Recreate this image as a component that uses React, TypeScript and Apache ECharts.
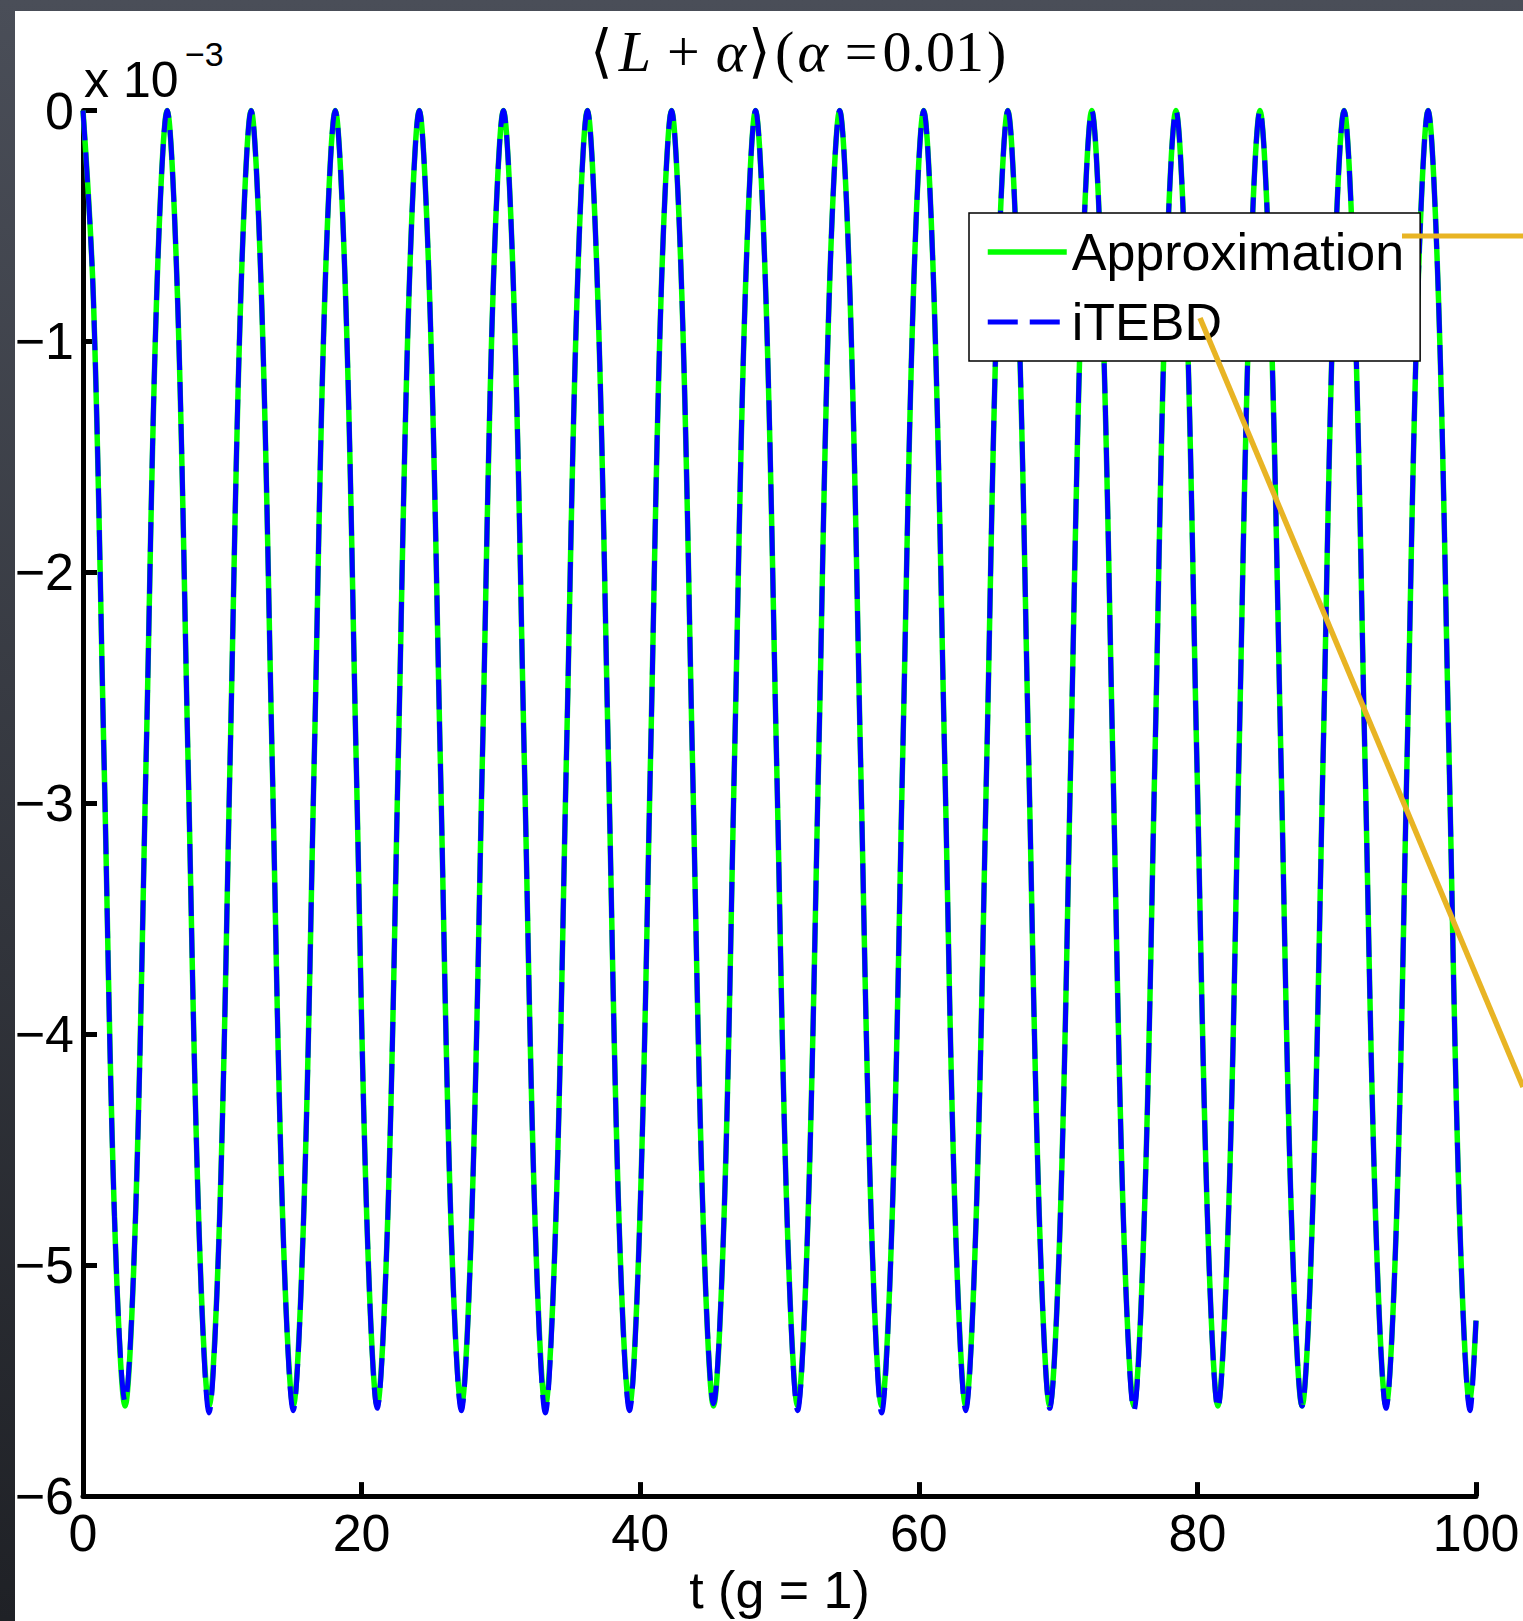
import React, { useEffect, useRef } from "react";
import * as echarts from "echarts";

// time axis t (g = 1)
const TIME = [
  0.0, 0.75, 1.51, 2.26, 3.02, 3.77, 4.53, 5.28,
  6.04, 6.79, 7.54, 8.3, 9.05, 9.81, 10.56, 11.32,
  12.07, 12.82, 13.58, 14.33, 15.09, 15.84, 16.6, 17.35,
  18.11, 18.86, 19.61, 20.37, 21.12, 21.88, 22.63, 23.39,
  24.14, 24.89, 25.65, 26.4, 27.16, 27.91, 28.67, 29.42,
  30.18, 30.93, 31.68, 32.44, 33.19, 33.95, 34.7, 35.46,
  36.21, 36.96, 37.72, 38.47, 39.23, 39.98, 40.74, 41.49,
  42.25, 43.0, 43.75, 44.51, 45.26, 46.02, 46.77, 47.53,
  48.28, 49.03, 49.79, 50.54, 51.3, 52.05, 52.81, 53.56,
  54.32, 55.07, 55.82, 56.58, 57.33, 58.09, 58.84, 59.6,
  60.35, 61.1, 61.86, 62.61, 63.37, 64.12, 64.88, 65.63,
  66.39, 67.14, 67.89, 68.65, 69.4, 70.16, 70.91, 71.67,
  72.42, 73.17, 73.93, 74.68, 75.44, 76.19, 76.95, 77.7,
  78.46, 79.21, 79.96, 80.72, 81.47, 82.23, 82.98, 83.74,
  84.49, 85.24, 86.0, 86.75, 87.51, 88.26, 89.02, 89.77,
  90.53, 91.28, 92.03, 92.79, 93.54, 94.3, 95.05, 95.81,
  96.56, 97.31, 98.07, 98.82, 99.58, 100.0,
];

// <L + alpha>, units of 1e-3
const APPROX = [
  0, -0.82, -2.81, -4.79, -5.61, -4.79, -2.81, -0.82,
  0, -0.82, -2.81, -4.79, -5.61, -4.79, -2.81, -0.82,
  0, -0.82, -2.81, -4.79, -5.61, -4.79, -2.81, -0.82,
  0, -0.82, -2.81, -4.79, -5.61, -4.79, -2.81, -0.82,
  0, -0.82, -2.81, -4.79, -5.61, -4.79, -2.81, -0.82,
  0, -0.82, -2.81, -4.79, -5.61, -4.79, -2.81, -0.82,
  0, -0.82, -2.81, -4.79, -5.61, -4.79, -2.81, -0.82,
  0, -0.82, -2.81, -4.79, -5.61, -4.79, -2.81, -0.82,
  0, -0.82, -2.81, -4.79, -5.61, -4.79, -2.81, -0.82,
  0, -0.82, -2.81, -4.79, -5.61, -4.79, -2.81, -0.82,
  0, -0.82, -2.81, -4.79, -5.61, -4.79, -2.81, -0.82,
  0, -0.82, -2.81, -4.79, -5.61, -4.79, -2.81, -0.82,
  0, -0.82, -2.81, -4.79, -5.61, -4.79, -2.81, -0.82,
  0, -0.82, -2.81, -4.79, -5.61, -4.79, -2.81, -0.82,
  0, -0.82, -2.81, -4.79, -5.61, -4.79, -2.81, -0.82,
  0, -0.82, -2.81, -4.79, -5.61, -4.79, -2.81, -0.82,
  0, -0.82, -2.81, -4.79, -5.61, -5.24,
];

const ITEBD = [
  0, -0.82, -2.81, -4.79, -5.59, -4.79, -2.81, -0.82,
  0, -0.82, -2.81, -4.79, -5.64, -4.79, -2.81, -0.82,
  0, -0.82, -2.81, -4.79, -5.63, -4.79, -2.81, -0.82,
  0, -0.82, -2.81, -4.79, -5.62, -4.79, -2.81, -0.82,
  0, -0.82, -2.81, -4.79, -5.63, -4.79, -2.81, -0.82,
  0, -0.82, -2.81, -4.79, -5.64, -4.79, -2.81, -0.82,
  0, -0.82, -2.81, -4.79, -5.63, -4.79, -2.81, -0.82,
  0, -0.82, -2.81, -4.79, -5.6, -4.79, -2.81, -0.82,
  0, -0.82, -2.81, -4.79, -5.63, -4.79, -2.81, -0.82,
  0, -0.82, -2.81, -4.79, -5.64, -4.79, -2.81, -0.82,
  0, -0.82, -2.81, -4.79, -5.63, -4.79, -2.81, -0.82,
  0, -0.82, -2.81, -4.79, -5.62, -4.79, -2.81, -0.82,
  0, -0.82, -2.81, -4.79, -5.63, -4.79, -2.81, -0.82,
  0, -0.82, -2.81, -4.79, -5.62, -4.79, -2.81, -0.82,
  0, -0.82, -2.81, -4.79, -5.61, -4.79, -2.81, -0.82,
  0, -0.82, -2.81, -4.79, -5.62, -4.79, -2.81, -0.82,
  0, -0.82, -2.81, -4.79, -5.63, -5.24,
];

const SERIES_NAMES = ["Approximation", "iTEBD"];
const X_RANGE = [0, 100, 20];
const Y_RANGE = [-6, 0, 1];
// title pieces: [text, style]
const TITLE_PARTS: [string, string][] = [
  ["\u27e8", "lb"],
  ["L", "i"],
  ["+", "op"],
  ["\u03b1", "i"],
  ["\u27e9", "rb"],
  ["(", "lp"],
  ["\u03b1", "i"],
  ["=", "eq"],
  ["0.01", "n"],
  [")", "rp"],
];
const X_NAME = "t (g = 1)";
const Y_MULT = ["x 10", "\u22123"];

const SANS = "Liberation Sans";
const SERIF = "Liberation Serif";

export default function App() {
  const ref = useRef<HTMLDivElement>(null);
  useEffect(() => {
    if (!ref.current) return;
    const chart = echarts.init(ref.current, undefined, { renderer: "svg" });
    const TS = 58;
    const base = { fontFamily: SERIF, fontSize: TS, fill: "#000" };
    const option: any = {
      animation: false,
      backgroundColor: "#ffffff",
      grid: { left: 83, top: 110.5, width: 1393, height: 1392.5, show: false },
      legend: {
        show: true,
        z: 10,
        orient: "vertical",
        left: 969,
        top: 213,
        padding: [13, 16, 13, 16],
        itemGap: 18,
        itemWidth: 79,
        itemHeight: 2,
        backgroundColor: "#ffffff",
        borderColor: "#000000",
        borderWidth: 1.5,
        borderRadius: 0,
        textStyle: { color: "#000", fontSize: 52, fontFamily: SANS },
        itemStyle: { opacity: 0 },
        lineStyle: { width: "inherit", type: "inherit" },
        data: SERIES_NAMES,
      },
      xAxis: {
        type: "value",
        min: X_RANGE[0],
        max: X_RANGE[1],
        interval: X_RANGE[2],
        axisLine: { show: true, onZero: false, lineStyle: { color: "#000", width: 5 } },
        axisTick: { show: true, inside: true, length: 14, lineStyle: { color: "#000", width: 5 } },
        splitLine: { show: false },
        axisLabel: { color: "#000", fontSize: 52, fontFamily: SANS, margin: 11 },
        name: X_NAME,
        nameLocation: "middle",
        nameGap: 66,
        nameTextStyle: { color: "#000", fontSize: 52, fontFamily: SANS },
      },
      yAxis: {
        type: "value",
        min: Y_RANGE[0],
        max: Y_RANGE[1],
        interval: Y_RANGE[2],
        axisLine: { show: true, onZero: false, lineStyle: { color: "#000", width: 5 } },
        axisTick: { show: true, inside: true, length: 14, lineStyle: { color: "#000", width: 5 } },
        splitLine: { show: false },
        axisLabel: {
          color: "#000",
          fontSize: 52,
          fontFamily: SANS,
          margin: 9,
          formatter: (v: number) => (v === 0 ? "0" : "\u2212" + Math.abs(v)),
        },
      },
      series: [
        {
          name: SERIES_NAMES[0],
          type: "line",
          data: TIME.map((t, i) => [t, APPROX[i]]),
          showSymbol: false,
          symbol: "none",
          smooth: 0.35,
          clip: false,
          z: 2,
          lineStyle: { color: "#00ff00", width: 5.5 },
          itemStyle: { color: "#00ff00" },
        },
        {
          name: SERIES_NAMES[1],
          type: "line",
          data: TIME.map((t, i) => [t, ITEBD[i]]),
          showSymbol: false,
          symbol: "none",
          smooth: 0.35,
          clip: false,
          z: 3,
          lineStyle: { color: "#0000ff", width: 5, type: [30, 12] },
          itemStyle: { color: "#0000ff" },
        },
      ],
      graphic: [
        {
          type: "rect",
          z: -20,
          silent: true,
          shape: { x: 0, y: 0, width: 1523, height: 1621 },
          style: {
            fill: new echarts.graphic.LinearGradient(0, 0, 0, 1, [
              { offset: 0, color: "#4a4e58" },
              { offset: 1, color: "#1f2126" },
            ]),
          },
        },
        {
          type: "rect",
          z: -19,
          silent: true,
          shape: { x: 15, y: 11, width: 1508, height: 1610 },
          style: { fill: "#ffffff" },
        },
        {
          type: "text",
          z: 10,
          x: 798,
          y: 51,
          style: {
            text: TITLE_PARTS.map(([t, s]) => "{" + s + "|" + t + "}").join(""),
            align: "center",
            verticalAlign: "middle",
            fill: "#000",
            rich: {
              n: { ...base },
              i: { ...base, fontStyle: "italic" },
              lb: { ...base, padding: [0, 6, 0, 0] },
              rb: { ...base, padding: [0, 4, 0, 2] },
              lp: { ...base, padding: [0, 3, 0, 0] },
              rp: { ...base, padding: [0, 0, 0, 3] },
              op: { ...base, padding: [0, 16, 0, 16] },
              eq: { ...base, padding: [0, 5, 0, 17] },
            },
          },
        },
        {
          type: "text",
          z: 10,
          x: 84,
          y: 80,
          style: { text: Y_MULT[0], fontFamily: SANS, fontSize: 50, fill: "#000", align: "left", verticalAlign: "middle" },
        },
        {
          type: "text",
          z: 10,
          x: 185,
          y: 54,
          style: { text: Y_MULT[1], fontFamily: SANS, fontSize: 34, fill: "#000", align: "left", verticalAlign: "middle" },
        },
        {
          type: "line",
          z: 100,
          silent: true,
          shape: { x1: 1402, y1: 236, x2: 1523, y2: 236 },
          style: { stroke: "#e8b424", lineWidth: 5 },
        },
        {
          type: "line",
          z: 100,
          silent: true,
          shape: { x1: 1200, y1: 318, x2: 1523, y2: 1087 },
          style: { stroke: "#e8b424", lineWidth: 5.5 },
        },
      ],
    };
    chart.setOption(option);
    return () => chart.dispose();
  }, []);
  return (
    <div
      ref={ref}
      style={{ position: "fixed", left: 0, top: 0, width: 1523, height: 1621 }}
    />
  );
}
